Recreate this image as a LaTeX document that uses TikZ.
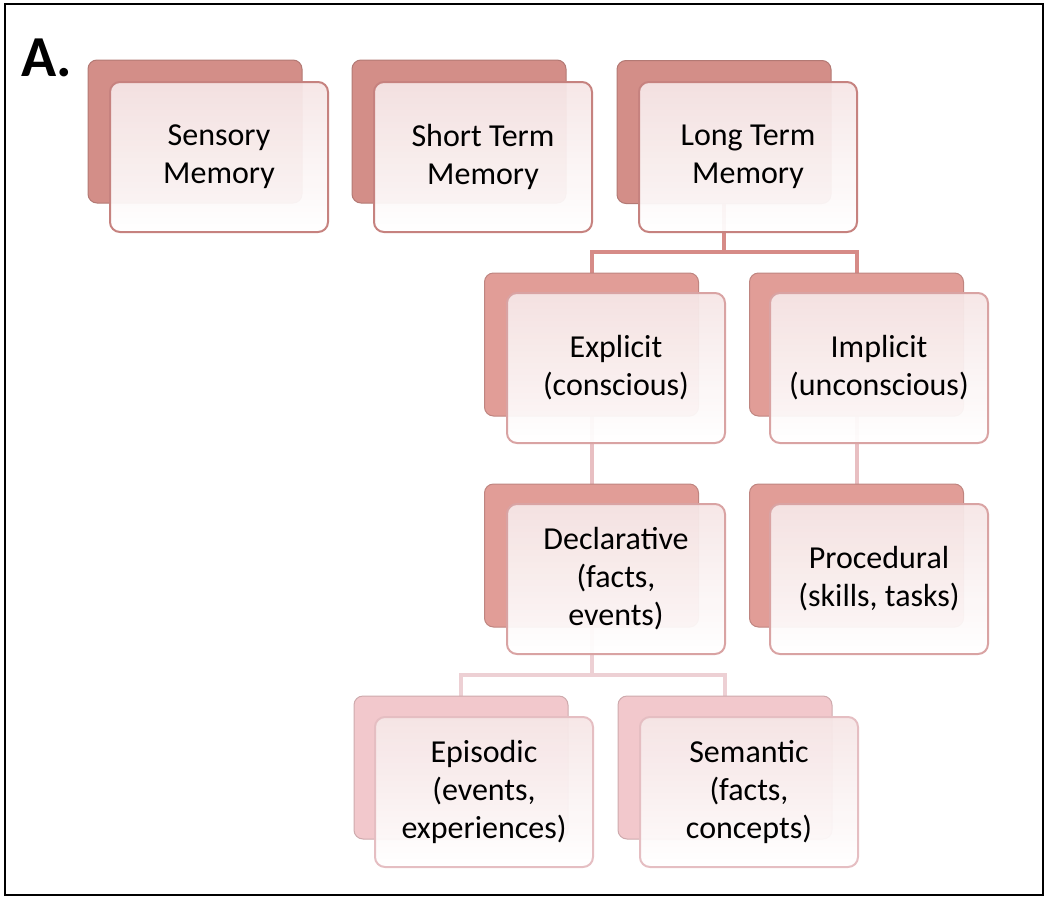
\documentclass[tikz,border=0pt]{standalone}
\usepackage{fontspec}
\setmainfont{Carlito}
\begin{document}
\begin{tikzpicture}[x=1pt,y=-1pt,
  backbox/.style={rounded corners=9pt, minimum width=214pt, minimum height=143pt, inner sep=0pt,
     fill=#1, draw=#1!85!black, line width=1pt},
  frontbox/.style={rounded corners=10pt, minimum width=218pt, minimum height=150pt, inner sep=0pt,
     draw=#1, line width=2pt, top color=pinkF, bottom color=white, fill opacity=0.94, text opacity=1,
     align=center, font=\fontsize{32}{38}\selectfont},
  conn/.style={draw=#1, line width=4pt}
]
\definecolor{backA}{HTML}{D38E88}
\definecolor{backB}{HTML}{E19D97}
\definecolor{backC}{HTML}{F2C8CC}
\definecolor{edgeA}{HTML}{C6827F}
\definecolor{edgeB}{HTML}{D9A3A3}
\definecolor{edgeC}{HTML}{E5BEC2}
\definecolor{pinkF}{HTML}{F6E6E6}
\definecolor{connA}{HTML}{D68B87}
\definecolor{connB}{HTML}{E8BFC2}
\definecolor{connC}{HTML}{EDD0D4}

\useasboundingbox (0,0) rectangle (1050,908);
\draw[line width=2.5pt] (5,4) rectangle (1043,895);
\node[anchor=base west, font=\fontsize{58}{60}\selectfont\bfseries, inner sep=0pt] (lbl) at (21,76) {A.};

% junction coordinates
\coordinate (j1) at (724,252);
\coordinate (j2) at (591.5,675);

% box centres used by the connectors
\coordinate (ltmC) at (724,132);
\coordinate (expC) at (591.5,344.5);
\coordinate (impC) at (856.5,344.5);
\coordinate (decC) at (591.5,555.5);
\coordinate (proC) at (856.5,555.5);
\coordinate (epiC) at (461,767.5);
\coordinate (semC) at (725,767.5);

% connectors (drawn behind boxes)
\draw[conn=connA] (ltmC) -- (j1) -| (expC);
\draw[conn=connA] (j1) -| (impC);
\draw[conn=connB] (expC) -- (decC);
\draw[conn=connB] (impC) -- (proC);
\draw[conn=connC] (decC) -- (j2) -| (epiC);
\draw[conn=connC] (j2) -| (semC);

% row 1
\node[backbox=backA] (sensB) at (195,131.5) {};
\node[frontbox=edgeA] (sens) at (219,157) {Sensory\\Memory};
\node[backbox=backA] (stmB) at (459,131.5) {};
\node[frontbox=edgeA] (stm) at (483,157) {Short Term\\Memory};
\node[backbox=backA] (ltmB) at (ltmC) {};
\node[frontbox=edgeA] (ltm) at (748,157) {Long Term\\Memory};

% row 2
\node[backbox=backB] (expB) at (expC) {};
\node[frontbox=edgeB] (exp) at (616,368) {Explicit\\(conscious)};
\node[backbox=backB] (impB) at (impC) {};
\node[frontbox=edgeB] (imp) at (879,368) {Implicit\\(unconscious)};

% row 3
\node[backbox=backB] (decB) at (decC) {};
\node[frontbox=edgeB] (dec) at (616,579) {Declarative\\(facts,\\events)};
\node[backbox=backB] (proB) at (proC) {};
\node[frontbox=edgeB] (pro) at (879,579) {Procedural\\(skills, tasks)};

% row 4
\node[backbox=backC] (epiB) at (epiC) {};
\node[frontbox=edgeC] (epi) at (484,792) {Episodic\\(events,\\experiences)};
\node[backbox=backC] (semB) at (semC) {};
\node[frontbox=edgeC] (sem) at (749,792) {Semantic\\(facts,\\concepts)};
\end{tikzpicture}
\end{document}
